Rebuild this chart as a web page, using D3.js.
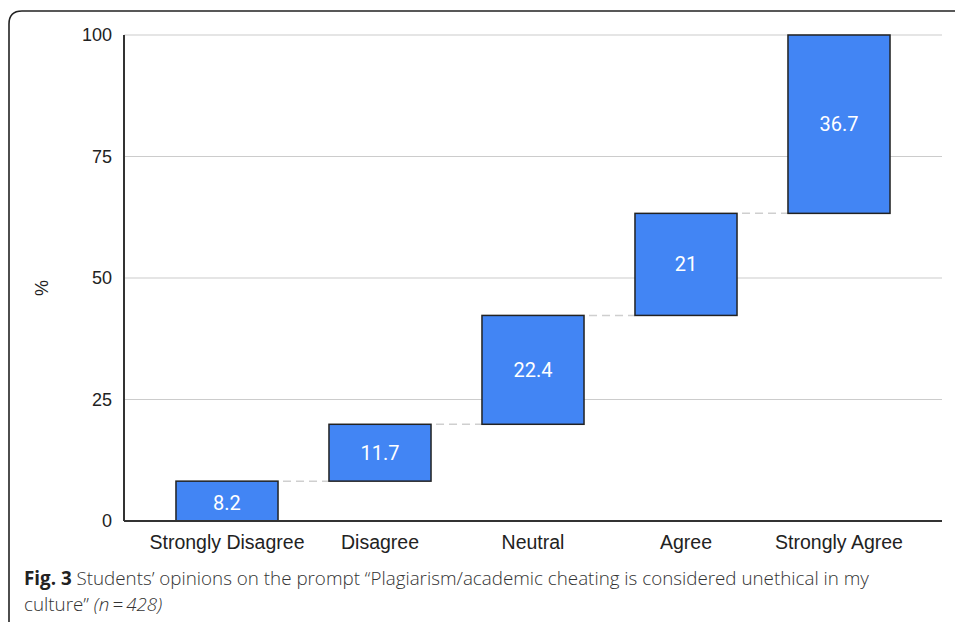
<!DOCTYPE html>
<html>
<head>
<meta charset="utf-8">
<script src="https://cdn.jsdelivr.net/npm/d3@7/dist/d3.min.js"></script>
<style>
  html, body { margin: 0; padding: 0; background: #fff; }
  svg { display: block; }
</style>
</head>
<body>
<svg id="chart" width="955" height="622"></svg>
<script>
// Response categories and the share of students choosing each (%)
const categories = ["Strongly Disagree", "Disagree", "Neutral", "Agree", "Strongly Agree"];
const values = [8.2, 11.7, 22.4, 21, 36.7];
const yTicks = [0, 25, 50, 75, 100];

const svg = d3.select("#chart");

// Caption frame (rounded, open to the right and bottom)
svg.append("path")
  .attr("d", "M9,640 L9,24 Q9,11 22,11 L970,11")
  .attr("fill", "none")
  .attr("stroke", "#222")
  .attr("stroke-width", 1.6);

// Waterfall: each bar spans from the running total before to after it
let run = 0;
const steps = values.map((v, i) => {
  const start = run;
  run += v;
  return { cat: categories[i], value: v, start, end: run };
});

const x = d3.scaleBand().domain(categories).range([150.5, 915.5]).paddingInner(0.333).paddingOuter(0.1665);
const y = d3.scaleLinear().domain([0, 100]).range([521, 35]);

const axisLeft = 124, axisRight = 942;

// Horizontal gridlines
svg.append("g").selectAll("line")
  .data(yTicks.filter(t => t !== 0))
  .join("line")
  .attr("x1", axisLeft).attr("x2", axisRight)
  .attr("y1", d => y(d)).attr("y2", d => y(d))
  .attr("stroke", "#cccccc")
  .attr("stroke-width", 1.2);

// Y tick labels
svg.append("g").selectAll("text")
  .data(yTicks)
  .join("text")
  .attr("x", 112)
  .attr("y", d => y(d))
  .attr("dy", "0.35em")
  .attr("text-anchor", "end")
  .attr("font-family", "Liberation Sans, Arial, sans-serif")
  .attr("font-size", 18)
  .attr("fill", "#222")
  .text(d => d);

// Y axis title
svg.append("text")
  .attr("transform", `translate(${42},${y(50) + 10}) rotate(-90)`)
  .attr("text-anchor", "middle")
  .attr("dy", "0.35em")
  .attr("font-family", "Liberation Sans, Arial, sans-serif")
  .attr("font-size", 18)
  .attr("fill", "#222")
  .text("%");

// Dashed connectors between consecutive bars
svg.append("g").selectAll("line")
  .data(steps.slice(0, -1))
  .join("line")
  .attr("x1", d => x(d.cat) + x.bandwidth() + 5)
  .attr("x2", (d, i) => x(categories[i + 1]))
  .attr("y1", d => y(d.end)).attr("y2", d => y(d.end))
  .attr("stroke", "#cfcfcf")
  .attr("stroke-width", 1.5)
  .attr("stroke-dasharray", "8,5");

// Bars
svg.append("g").selectAll("rect")
  .data(steps)
  .join("rect")
  .attr("x", d => x(d.cat))
  .attr("width", x.bandwidth())
  .attr("y", d => y(d.end))
  .attr("height", d => y(d.start) - y(d.end))
  .attr("fill", "#4285f4")
  .attr("stroke", "#222")
  .attr("stroke-width", 1.5);

// Value labels inside bars
svg.append("g").selectAll("text")
  .data(steps)
  .join("text")
  .attr("x", d => x(d.cat) + x.bandwidth() / 2)
  .attr("y", d => (y(d.start) + y(d.end)) / 2 + (d.start === 0 ? 2 : 0))
  .attr("dy", "0.35em")
  .attr("text-anchor", "middle")
  .attr("font-family", "Roboto, sans-serif")
  .attr("font-size", 20)
  .attr("fill", "#fff")
  .text(d => d.value);

// Baseline
svg.append("line")
  .attr("x1", axisLeft).attr("x2", axisRight)
  .attr("y1", y(0)).attr("y2", y(0))
  .attr("stroke", "#333").attr("stroke-width", 2);

// Y axis line
svg.append("line")
  .attr("x1", axisLeft).attr("x2", axisLeft)
  .attr("y1", y(100)).attr("y2", y(0))
  .attr("stroke", "#333").attr("stroke-width", 2);

// Category labels
svg.append("g").selectAll("text")
  .data(categories)
  .join("text")
  .attr("x", d => x(d) + x.bandwidth() / 2)
  .attr("y", 549)
  .attr("text-anchor", "middle")
  .attr("font-family", "Liberation Sans, Arial, sans-serif")
  .attr("font-size", 19.5)
  .attr("fill", "#222")
  .text(d => d);

// Figure caption
const cap = svg.append("g")
  .attr("font-family", "Open Sans, sans-serif")
  .attr("font-size", 18.8)
  .attr("fill", "#333");
const l1 = cap.append("text").attr("x", 24).attr("y", 585);
l1.append("tspan").attr("font-weight", "bold").attr("fill", "#222").text("Fig. 3");
l1.append("tspan").attr("font-weight", 300).text(" Students\u2019 opinions on the prompt \u201cPlagiarism/academic cheating is considered unethical in my");
const l2 = cap.append("text").attr("x", 24).attr("y", 611).attr("font-weight", 300);
l2.append("tspan").text("culture\u201d ");
l2.append("tspan").attr("font-style", "italic").text("(n\u2009=\u2009428)");
</script>
</body>
</html>
